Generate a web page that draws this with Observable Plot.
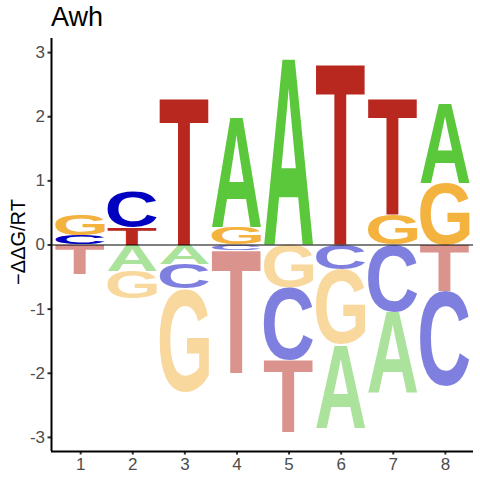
<!DOCTYPE html>
<html><head><meta charset="utf-8">
<script src="https://cdn.jsdelivr.net/npm/d3@7"></script>
<script src="https://cdn.jsdelivr.net/npm/@observablehq/plot@0.6"></script>
<style>
body{margin:0;background:#fff;font-family:"Liberation Sans",Arial,sans-serif}
#title{height:34px;line-height:35px;padding-left:51px;font-size:27px;color:#000;white-space:nowrap}
#chart svg{display:block}
</style></head><body>
<div id="title"></div>
<div id="chart"></div>
<script>
// ---- data ----
const title = "Awh";
const yLabel = "\u2212\u0394\u0394G/RT";
const positions = [1, 2, 3, 4, 5, 6, 7, 8];
const letters = ["A", "C", "G", "T"];
const valA = [0.00, -0.41, -0.30, 1.73, 2.93, -1.30, -1.27, 1.25];
const valC = [0.14, 0.56, -0.39, -0.08, -1.13, -0.38, -1.05, -1.48];
const valG = [0.32, -0.43, -1.61, 0.27, -0.67, -1.18, 0.48, 0.96];
const valT = [-0.46, 0.27, 2.31, -1.92, -1.13, 2.84, 1.83, -0.73];
const xTicks = [1, 2, 3, 4, 5, 6, 7, 8];
const yTicks = [-3, -2, -1, 0, 1, 2, 3];
const letterColors = {A: "#5AC83A", C: "#0000C0", G: "#F4B23E", T: "#B8281E"};

const FONT = "'Liberation Sans', Arial, sans-serif";
document.getElementById("title").textContent = title;

// ---- build stacked table ----
const byLetter = {A: valA, C: valC, G: valG, T: valT};
const rows = [];
positions.forEach((p, i) => {
  const items = letters.map(l => ({letter: l, value: byLetter[l][i]})).filter(d => d.value !== 0);
  const pos = items.filter(d => d.value > 0).sort((a, b) => a.value - b.value);
  const neg = items.filter(d => d.value < 0).sort((a, b) => b.value - a.value);
  let acc = 0;
  for (const d of pos) { rows.push({pos: p, letter: d.letter, value: d.value, y1: acc, y2: acc + d.value}); acc += d.value; }
  acc = 0;
  for (const d of neg) { rows.push({pos: p, letter: d.letter, value: d.value, y1: acc, y2: acc + d.value}); acc += d.value; }
});

// ---- glyph metrics ----
const ctx = document.createElement("canvas").getContext("2d");
ctx.font = `bold 100px ${FONT}`;
ctx.textAlign = "left";
ctx.textBaseline = "alphabetic";
const metrics = {};
function measure(ch) {
  if (!metrics[ch]) {
    const m = ctx.measureText(ch);
    metrics[ch] = {l: m.actualBoundingBoxLeft, r: m.actualBoundingBoxRight, a: m.actualBoundingBoxAscent, d: m.actualBoundingBoxDescent};
  }
  return metrics[ch];
}

function renderLetters(index, scales, values) {
  const g = d3.create("svg:g");
  for (const i of index) {
    const d = rows[i];
    const xa = Math.min(values.x1[i], values.x2[i]), xb = Math.max(values.x1[i], values.x2[i]);
    const ya = Math.min(values.y1[i], values.y2[i]), yb = Math.max(values.y1[i], values.y2[i]);
    const m = measure(d.letter);
    const sx = (xb - xa) / (m.l + m.r), sy = (yb - ya) / (m.a + m.d);
    g.append("text")
      .attr("font-family", FONT)
      .attr("font-weight", "bold")
      .attr("font-size", 100)
      .attr("text-anchor", "start")
      .attr("dominant-baseline", "alphabetic")
      .attr("transform", `translate(${xa + m.l * sx},${ya + m.a * sy}) scale(${sx},${sy})`)
      .attr("fill", letterColors[d.letter])
      .attr("fill-opacity", d.value < 0 ? 0.5 : 1)
      .text(d.letter);
  }
  return g.node();
}

const xDomain = [0.44, 8.54];
const yDomain = [-3.22, 3.22];
const halfW = 0.475;

const chart = Plot.plot({
  width: 480,
  height: 446,
  marginTop: 4,
  marginBottom: 29,
  marginLeft: 51,
  marginRight: 7,
  style: {fontFamily: FONT, background: "white"},
  x: {domain: xDomain, axis: null},
  y: {domain: yDomain, axis: null},
  marks: [
    Plot.rect(rows, {
      x1: d => d.pos - halfW, x2: d => d.pos + halfW, y1: "y1", y2: "y2",
      fill: d => letterColors[d.letter], fillOpacity: d => d.value < 0 ? 0.5 : 1,
      render: renderLetters
    }),
    Plot.ruleY([0], {stroke: "black", strokeWidth: 1}),
    Plot.axisX(xTicks, {tickSize: 3.5, tickPadding: 3, fontSize: 17, fill: "#4D4D4D", stroke: "#333", strokeWidth: 2, label: null, tickFormat: d => String(d)}),
    Plot.axisY(yTicks, {tickSize: 3.5, tickPadding: 3, fontSize: 17, fill: "#4D4D4D", stroke: "#333", strokeWidth: 2, label: null, tickFormat: d => String(d)}),
    Plot.ruleX([xDomain[0]], {stroke: "black", strokeWidth: 2}),
    Plot.ruleY([yDomain[0]], {stroke: "black", strokeWidth: 2}),
    Plot.text([yLabel], {text: d => d, frameAnchor: "left", textAnchor: "middle", dx: -33, dy: -3, rotate: -90, fontSize: 20, fill: "black"})
  ]
});
document.getElementById("chart").appendChild(chart);
</script>
</body></html>
